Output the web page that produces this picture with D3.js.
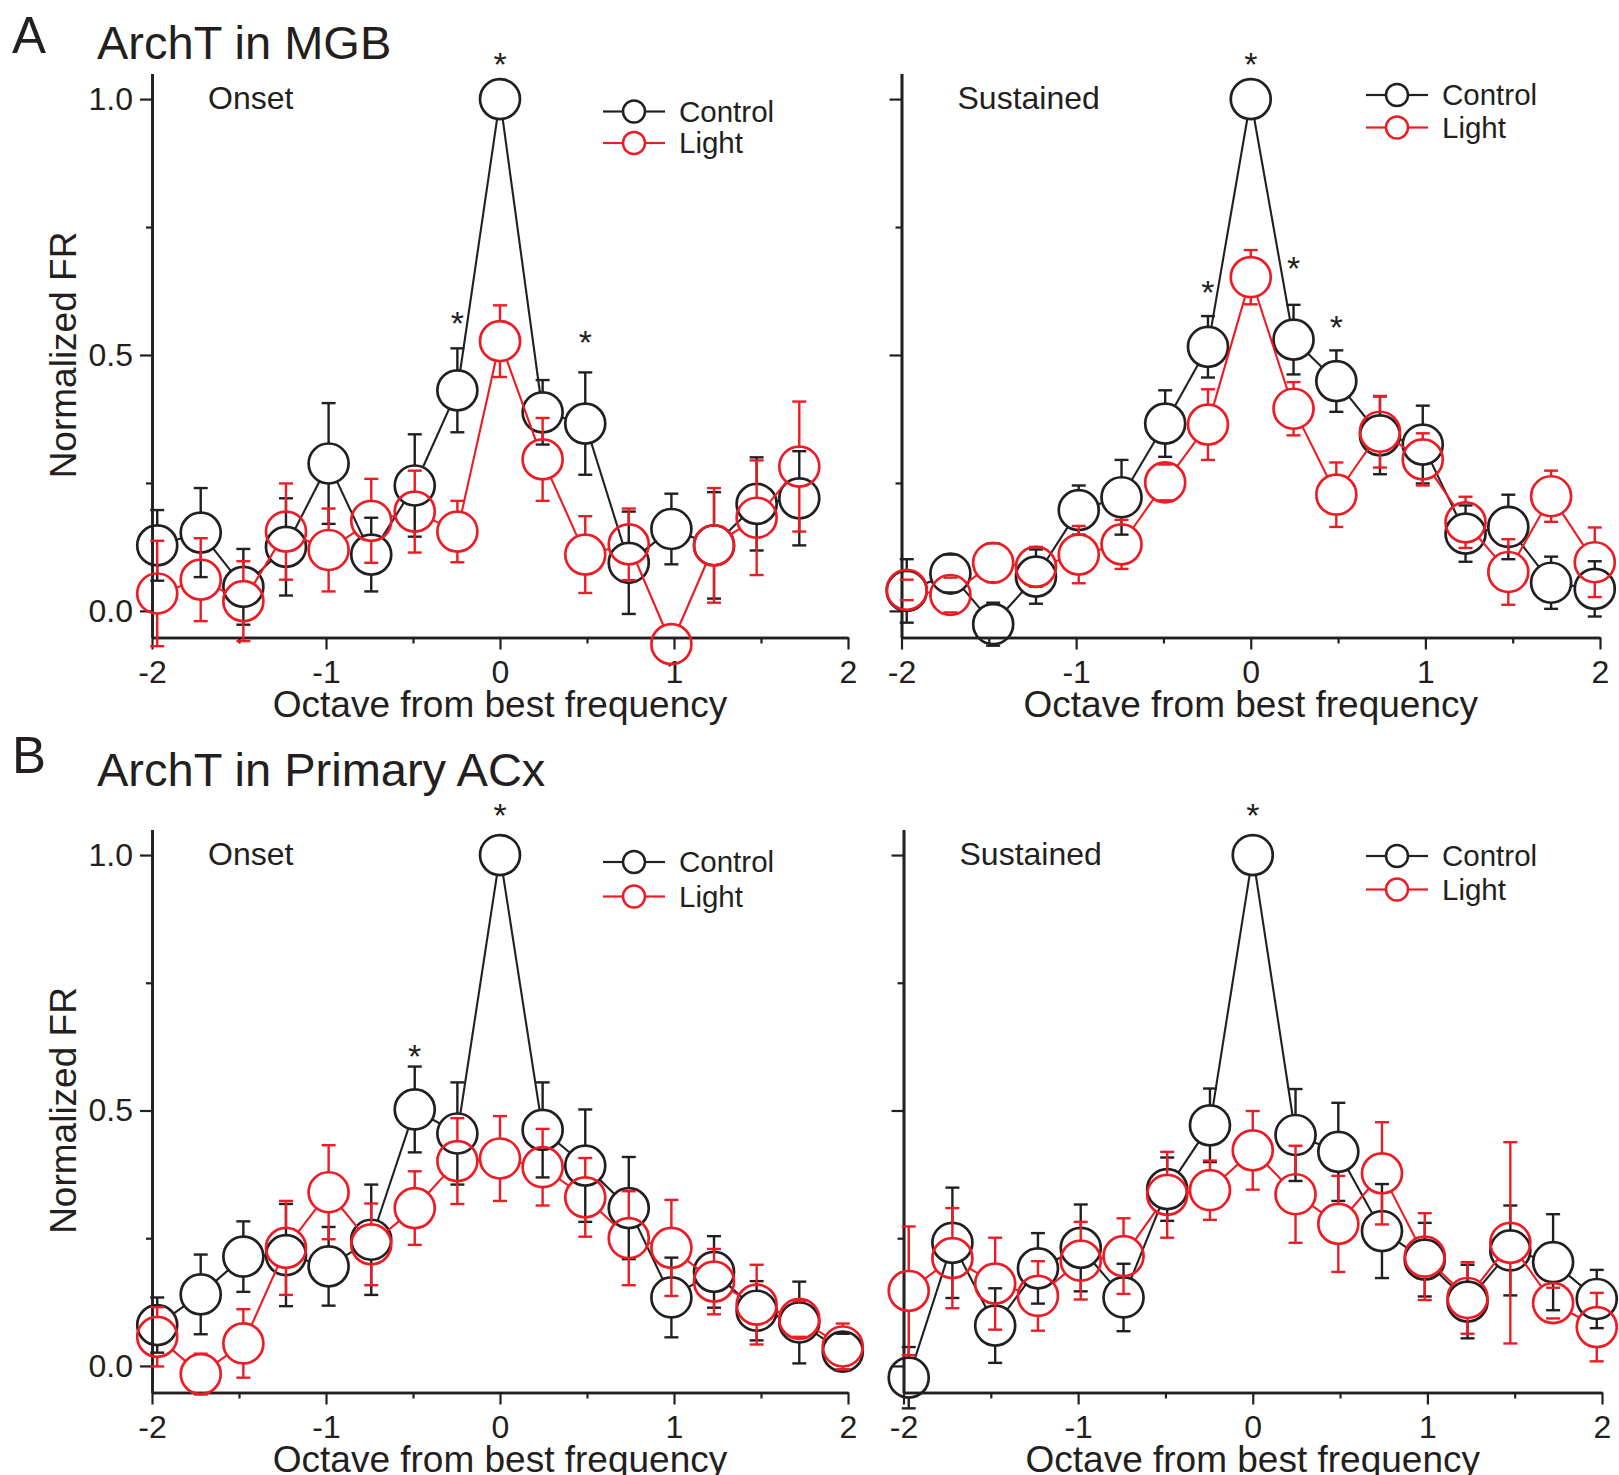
<!DOCTYPE html>
<html>
<head>
<meta charset="utf-8">
<script src="https://cdn.jsdelivr.net/npm/d3@7"></script>
<style>
  body { margin: 0; background: #fff; }
  svg text { font-family: "Liberation Sans", Arial, sans-serif; fill: #231f20; }
</style>
</head>
<body>
<svg id="chart" width="1619" height="1475"></svg>
<script>
// tone positions, octaves from best frequency
const octaves = [-1.97, -1.72, -1.475, -1.23, -0.985, -0.74, -0.49, -0.245, 0,
                 0.245, 0.49, 0.74, 0.985, 1.23, 1.475, 1.72, 1.97];
const xTicks = [-2, -1, 0, 1, 2];
const xMinorTicks = [-1.5, -0.5, 0.5, 1.5];
const yTicks = [0, 0.5, 1.0];
const yMinorTicks = [0.25, 0.75];
const seriesNames = ["Control", "Light"];

// A - ArchT in MGB, onset (no tone at +2 oct)
const mgbOnsetControl    = [0.128, 0.153, 0.047, 0.125, 0.288, 0.110, 0.245, 0.431, 1.0, 0.388, 0.366, 0.094, 0.160, 0.128, 0.209, 0.220];
const mgbOnsetControlErr = [0.069, 0.087, 0.074, 0.095, 0.118, 0.072, 0.100, 0.082, 0, 0.063, 0.100, 0.100, 0.069, 0.104, 0.091, 0.092];
const mgbOnsetLight      = [0.034, 0.061, 0.019, 0.155, 0.119, 0.176, 0.194, 0.155, 0.527, 0.296, 0.110, 0.130, -0.065, 0.128, 0.182, 0.282];
const mgbOnsetLightErr   = [0.103, 0.081, 0.078, 0.094, 0.081, 0.082, 0.080, 0.060, 0.070, 0.081, 0.075, 0.070, 0, 0.112, 0.112, 0.127];
const mgbOnsetStars      = [[-0.245, 0.577], [0, 1.084], [0.49, 0.541]];

// A - ArchT in MGB, sustained
const mgbSustControl    = [0.039, 0.073, -0.026, 0.067, 0.197, 0.222, 0.366, 0.516, 1.0, 0.530, 0.449, 0.343, 0.325, 0.151, 0.164, 0.055, 0.043];
const mgbSustControlErr = [0.062, 0.037, 0.042, 0.053, 0.048, 0.073, 0.065, 0.060, 0, 0.068, 0.060, 0.076, 0.076, 0.055, 0.063, 0.051, 0.054];
const mgbSustLight      = [0.041, 0.031, 0.094, 0.086, 0.110, 0.130, 0.251, 0.364, 0.652, 0.395, 0.227, 0.350, 0.296, 0.173, 0.076, 0.224, 0.095];
const mgbSustLightErr   = [0.020, 0.034, 0.038, 0.039, 0.056, 0.048, 0.035, 0.069, 0.053, 0.052, 0.063, 0.070, 0.051, 0.050, 0.064, 0.050, 0.068];
const mgbSustStars      = [[-0.245, 0.639], [0, 1.083], [0.245, 0.686], [0.49, 0.570]];

// B - ArchT in primary ACx, onset
const acxOnsetControl    = [0.080, 0.140, 0.214, 0.217, 0.195, 0.247, 0.502, 0.455, 1.0, 0.462, 0.392, 0.309, 0.134, 0.184, 0.108, 0.085, 0.028];
const acxOnsetControlErr = [0.054, 0.078, 0.069, 0.100, 0.077, 0.108, 0.084, 0.100, 0, 0.093, 0.110, 0.100, 0.078, 0.070, 0.058, 0.080, 0.035];
const acxOnsetLight      = [0.057, -0.016, 0.044, 0.231, 0.340, 0.238, 0.309, 0.401, 0.406, 0.389, 0.330, 0.250, 0.231, 0.165, 0.120, 0.092, 0.038];
const acxOnsetLightErr   = [0.058, 0.040, 0.067, 0.092, 0.092, 0.080, 0.072, 0.084, 0.083, 0.075, 0.077, 0.092, 0.094, 0.064, 0.078, 0.035, 0.045];
const acxOnsetStars      = [[-0.49, 0.622], [0, 1.094]];

// B - ArchT in primary ACx, sustained
const acxSustControl    = [-0.023, 0.241, 0.079, 0.191, 0.231, 0.134, 0.346, 0.471, 1.0, 0.452, 0.419, 0.264, 0.208, 0.126, 0.226, 0.203, 0.131];
const acxSustControlErr = [0.060, 0.108, 0.073, 0.069, 0.085, 0.066, 0.062, 0.072, 0, 0.090, 0.096, 0.092, 0.072, 0.072, 0.088, 0.094, 0.057];
const acxSustLight      = [0.147, 0.211, 0.161, 0.137, 0.206, 0.215, 0.335, 0.344, 0.422, 0.336, 0.278, 0.377, 0.214, 0.133, 0.241, 0.123, 0.076];
const acxSustLightErr   = [0.126, 0.098, 0.090, 0.068, 0.076, 0.074, 0.084, 0.058, 0.077, 0.095, 0.094, 0.100, 0.085, 0.070, 0.197, 0.030, 0.067];
const acxSustStars      = [[0, 1.094]];

const BLACK = "#231f20", RED = "#ed1c24";
const R = 20; // marker radius

const svg = d3.select("#chart");

// panel letters + titles
svg.append("text").attr("x", 12).attr("y", 53).style("font-size", "51px").text("A");
svg.append("text").attr("x", 97).attr("y", 59).style("font-size", "47px").text("ArchT in MGB");
svg.append("text").attr("x", 12).attr("y", 773).style("font-size", "51px").text("B");
svg.append("text").attr("x", 97).attr("y", 786).style("font-size", "47px").text("ArchT in Primary ACx");

const panels = [
  { left: 152, right: 848, top: 73.5, bottom: 637.5, label: "Onset", yLabel: true,
    legX: 603, legY: 111.5, legGap: 31.5, stars: mgbOnsetStars,
    series: [[mgbOnsetControl, mgbOnsetControlErr, BLACK], [mgbOnsetLight, mgbOnsetLightErr, RED]] },
  { left: 901.5, right: 1600, top: 73.5, bottom: 637.5, label: "Sustained", yLabel: false,
    legX: 1366, legY: 95, legGap: 32.5, stars: mgbSustStars,
    series: [[mgbSustControl, mgbSustControlErr, BLACK], [mgbSustLight, mgbSustLightErr, RED]] },
  { left: 152, right: 848, top: 829.5, bottom: 1392.5, label: "Onset", yLabel: true,
    legX: 603, legY: 862, legGap: 34.5, stars: acxOnsetStars,
    series: [[acxOnsetControl, acxOnsetControlErr, BLACK], [acxOnsetLight, acxOnsetLightErr, RED]] },
  { left: 903.5, right: 1602, top: 829.5, bottom: 1392.5, label: "Sustained", yLabel: false,
    legX: 1366, legY: 856, legGap: 33.5, stars: acxSustStars,
    series: [[acxSustControl, acxSustControlErr, BLACK], [acxSustLight, acxSustLightErr, RED]] }
];

function styleAxis(g) {
  g.select(".domain").attr("stroke", BLACK).attr("stroke-width", 2.6);
  g.selectAll(".tick line").attr("stroke", BLACK).attr("stroke-width", 2.2);
  g.selectAll(".tick text").style("font-size", "32px");
}

function drawSeries(g, x, y, vals, errs, color) {
  let pts = vals.map((v, i) => ({ px: x(octaves[i]), py: y(v), v: v, e: errs[i] }));

  // connecting lines stop at the marker outline
  let segs = d3.pairs(pts).map(([a, b]) => {
    let dx = b.px - a.px, dy = b.py - a.py, d = Math.hypot(dx, dy);
    return { x1: a.px + dx / d * R, y1: a.py + dy / d * R, x2: b.px - dx / d * R, y2: b.py - dy / d * R, ok: d > 2 * R };
  }).filter(s => s.ok);
  g.append("g").selectAll("line").data(segs).join("line")
    .attr("x1", d => d.x1).attr("y1", d => d.y1)
    .attr("x2", d => d.x2).attr("y2", d => d.y2)
    .attr("stroke", color).attr("stroke-width", 2.1);

  // error bars, drawn outside the marker only
  let bars = [];
  pts.filter(p => p.e > 0).forEach(p => {
    [1, -1].forEach(dir => {
      let end = y(p.v + dir * p.e);
      bars.push({ px: p.px, from: p.py - dir * R, end: end, stem: Math.abs(end - p.py) > R });
    });
  });
  let eb = g.append("g").attr("stroke", color).attr("stroke-width", 2.4);
  eb.selectAll("line.stem").data(bars.filter(b => b.stem)).join("line").attr("class", "stem")
    .attr("x1", d => d.px).attr("x2", d => d.px)
    .attr("y1", d => d.from).attr("y2", d => d.end);
  eb.selectAll("line.cap").data(bars).join("line").attr("class", "cap")
    .attr("x1", d => d.px - 7).attr("x2", d => d.px + 7)
    .attr("y1", d => d.end).attr("y2", d => d.end);

  g.append("g").selectAll("circle").data(pts).join("circle")
    .attr("cx", d => d.px).attr("cy", d => d.py).attr("r", R)
    .attr("fill", "none").attr("stroke", color).attr("stroke-width", 2.7);
}

panels.forEach(p => {
  let x = d3.scaleLinear().domain([-2, 2]).range([p.left, p.right]);
  let y = d3.scaleLinear().domain([-0.052, 1.05]).range([p.bottom, p.top]);
  let g = svg.append("g");

  // x axis (minor + major ticks)
  g.append("g").attr("transform", "translate(0," + p.bottom + ")")
    .call(d3.axisBottom(x).tickValues(xMinorTicks).tickSize(6).tickSizeOuter(0).tickFormat(""))
    .call(styleAxis);
  g.append("g").attr("transform", "translate(0," + p.bottom + ")")
    .call(d3.axisBottom(x).tickValues(xTicks).tickSize(12).tickSizeOuter(0).tickPadding(11)
      .tickFormat(d => String(d)))
    .call(styleAxis);

  // y axis
  g.append("g").attr("transform", "translate(" + p.left + ",0)")
    .call(d3.axisLeft(y).tickValues(yMinorTicks).tickSize(6).tickSizeOuter(0).tickFormat(""))
    .call(styleAxis);
  g.append("g").attr("transform", "translate(" + p.left + ",0)")
    .call(d3.axisLeft(y).tickValues(yTicks).tickSize(12).tickSizeOuter(0).tickPadding(7)
      .tickFormat(d => p.yLabel ? d.toFixed(1) : ""))
    .call(styleAxis);

  // axis titles
  g.append("text").attr("x", x(0)).attr("y", p.bottom + 79)
    .attr("text-anchor", "middle").style("font-size", "37px")
    .text("Octave from best frequency");
  if (p.yLabel) {
    g.append("text").attr("transform", "translate(76," + y(0.5) + ") rotate(-90)")
      .attr("text-anchor", "middle").style("font-size", "37px").text("Normalized FR");
  }

  // Onset / Sustained
  g.append("text").attr("x", p.left + 56).attr("y", y(1.0) - 1).attr("dy", "0.35em")
    .style("font-size", "32px").text(p.label);

  p.series.forEach(s => drawSeries(g, x, y, s[0], s[1], s[2]));

  // significance markers
  g.selectAll("text.star").data(p.stars).join("text").attr("class", "star")
    .attr("x", d => x(d[0])).attr("y", d => y(d[1])).attr("dy", "0.58em")
    .attr("text-anchor", "middle").style("font-size", "34px").text("*");

  // legend
  seriesNames.forEach((name, i) => {
    let col = p.series[i][2], ly = p.legY + i * p.legGap, cx = p.legX + 31;
    let lg = g.append("g");
    lg.append("line").attr("x1", p.legX).attr("x2", cx - 11).attr("y1", ly).attr("y2", ly)
      .attr("stroke", col).attr("stroke-width", 2.2);
    lg.append("line").attr("x1", cx + 11).attr("x2", p.legX + 62).attr("y1", ly).attr("y2", ly)
      .attr("stroke", col).attr("stroke-width", 2.2);
    lg.append("circle").attr("cx", cx).attr("cy", ly).attr("r", 11)
      .attr("fill", "none").attr("stroke", col).attr("stroke-width", 2.5);
    lg.append("text").attr("x", p.legX + 76).attr("y", ly).attr("dy", "0.35em")
      .style("font-size", "29.5px").text(name);
  });
});
</script>
</body>
</html>
